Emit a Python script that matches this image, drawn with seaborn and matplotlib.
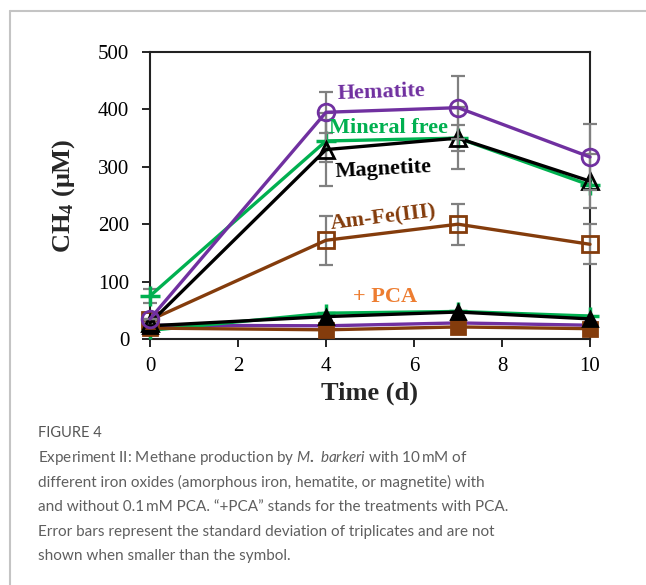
import numpy as np
import pandas as pd
import seaborn as sns
import matplotlib
matplotlib.use("Agg")
import matplotlib.pyplot as plt
from matplotlib.lines import Line2D

# ---------------- data ----------------
time_d = [0, 4, 7, 10]

hematite = [35, 395, 403, 317]
hematite_sd = [0, 36, 55, 57]
mineral_free = [75, 345, 350, 268]
mineral_free_sd = [12, 37, 23, 0]
magnetite = [28, 330, 350, 275]
magnetite_sd = [0, 64, 54, 47]
amfe = [33, 172, 200, 165]
amfe_sd = [0, 43, 36, 35]

mineral_free_pca = [15, 45, 48, 40]
magnetite_pca = [23, 39, 47, 35]
hematite_pca = [24, 23, 28, 24]
amfe_pca = [19, 16, 21, 18]

series_names = ["Hematite", "Mineral free", "Magnetite", "Am-Fe(III)"]
x_ticks = [0, 2, 4, 6, 8, 10]
y_ticks = [0, 100, 200, 300, 400, 500]

# ---------------- style ----------------
sns.set_theme(style="white")
plt.rcParams["font.family"] = ["Liberation Serif", "DejaVu Serif"]
plt.rcParams["mathtext.fontset"] = "custom"
plt.rcParams["mathtext.rm"] = "Liberation Serif:bold"
plt.rcParams["mathtext.bf"] = "Liberation Serif:bold"
plt.rcParams["mathtext.it"] = "Lato:italic"

PURPLE = "#7030A0"
GREEN = "#00B050"
BLACK = "#000000"
BROWN = "#843C0C"
ORANGE = "#ED7D31"
ERR = "#808080"

W, H = 646, 585
fig = plt.figure(figsize=(W / 100, H / 100), dpi=100)
ax = fig.add_axes([150 / W, 1 - 339 / H, 440 / W, 287 / H])

def draw(vals, color, marker, filled, ms, z, sd=None, mew=2.0):
    df = pd.DataFrame({"t": time_d, "v": vals})
    if sd is not None:
        ax.errorbar(time_d, vals, yerr=sd, fmt="none", ecolor=ERR,
                    elinewidth=1.6, capsize=5, capthick=1.6, zorder=z - 1)
    sns.lineplot(data=df, x="t", y="v", ax=ax, color=color, lw=2.4,
                 marker=marker, markersize=ms,
                 markerfacecolor=(color if filled else "none"),
                 markeredgecolor=color, markeredgewidth=mew, zorder=z)

# +PCA series (filled)
draw(hematite_pca, PURPLE, "o", True, 9, 3)
draw(amfe_pca, BROWN, "s", True, 10, 4)
draw(mineral_free_pca, GREEN, "+", False, 13, 3, mew=2.5)
draw(magnetite_pca, BLACK, "^", True, 10, 4)

# without PCA (open)
draw(amfe, BROWN, "s", False, 12, 6, amfe_sd)
draw(mineral_free, GREEN, "+", False, 14, 6, mineral_free_sd, mew=2.5)
draw(magnetite, BLACK, "^", False, 12, 7, magnetite_sd)
draw(hematite, PURPLE, "o", False, 12, 8, hematite_sd)

ax.set_xlim(0, 10)
ax.set_ylim(0, 500)
ax.set_xticks(x_ticks)
ax.set_yticks(y_ticks)
ax.tick_params(axis="both", direction="out", length=6, width=1.2,
               labelsize=15, colors="black", left=True, bottom=True)
ax.tick_params(axis="y", pad=9)
ax.tick_params(axis="x", pad=7)
for s in ax.spines.values():
    s.set_color("#222222")
    s.set_linewidth(1.5)
for ln in ax.lines:
    ln.set_clip_on(False)
for c in ax.collections:
    c.set_clip_on(False)

ax.set_xlabel("Time (d)", fontsize=19, fontweight="bold")
ax.set_ylabel(r"CH$_{4}$ (μM)", fontsize=19, fontweight="bold")
ax.xaxis.set_label_coords(0.498, -0.148)
ax.yaxis.set_label_coords(-0.165, 0.5)
if ax.get_legend():
    ax.get_legend().remove()

# annotations
kw = dict(fontsize=16, fontweight="bold", ha="center", va="center", zorder=10)
ax.text(5.25, 430, series_names[0], color=PURPLE, rotation=2, **kw)
ax.text(5.43, 368, series_names[1], color=GREEN, **kw)
ax.text(5.3, 296, series_names[2], color=BLACK, rotation=3, **kw)
ax.text(5.3, 210, series_names[3], color=BROWN, rotation=7, **kw)
ax.text(5.34, 73, "+ PCA", color=ORANGE, **kw)

# frame lines
fig.add_artist(Line2D([10 / W, 1], [1 - 11 / H, 1 - 11 / H],
                      color="#c4c4c4", lw=1.5, transform=fig.transFigure))
fig.add_artist(Line2D([10 / W, 10 / W], [0, 1 - 11 / H],
                      color="#c4c4c4", lw=1.5, transform=fig.transFigure))

# caption
cap_color = "#5f5f5f"
fig.text(38 / W, 1 - 433 / H, "FIGURE 4", fontsize=10.5, color="#555555",
         family=["Lato", "DejaVu Sans"], va="center", ha="left")
lines = [
    "Experiment II: Methane production by $\\it{M.}$ $\\it{barkeri}$ with 10\u2009mM of",
    "different iron oxides (amorphous iron, hematite, or magnetite) with",
    "and without 0.1\u2009mM PCA. \u201c+PCA\u201d stands for the treatments with PCA.",
    "Error bars represent the standard deviation of triplicates and are not",
    "shown when smaller than the symbol.",
]
ys = [458, 482, 507, 532, 556]
for t, y in zip(lines, ys):
    fig.text(38 / W, 1 - y / H, t, fontsize=11.0, color=cap_color,
             family=["Lato", "DejaVu Sans"],
             va="center", ha="left")

fig.savefig("out.png", dpi=100)
